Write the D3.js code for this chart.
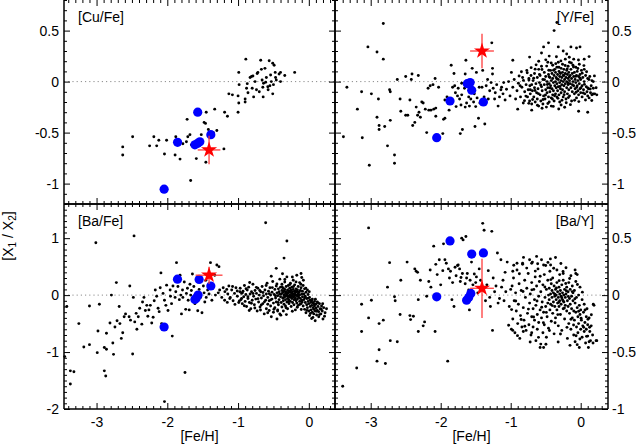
<!DOCTYPE html>
<html>
<head>
<meta charset="utf-8">
<script src="https://cdn.jsdelivr.net/npm/d3@7"></script>
<style>
  body { margin: 0; background: #fff; }
  text { font-family: "Liberation Sans", Arial, Helvetica, sans-serif; }
</style>
</head>
<body>
<svg id="chart" width="636" height="444"></svg>
<script>
// ---- data: [Fe/H, ratio] ----
const cuFe = [[-2.63,-0.64],[-2.63,-0.72],[-2.49,-0.54],[-2.25,-0.63],[-2.19,-0.54],[-2.15,-0.63],[-2.12,-0.575],[-2.04,-0.71],[-2.01,-0.575],[-1.89,-0.72],[-1.88,-0.54],[-1.82,-0.76],[-1.78,-0.61],[-1.73,-0.59],[-1.72,-0.37],[-1.71,-0.54],[-1.68,-0.52],[-1.67,-0.97],[-1.66,-0.62],[-1.59,-0.755],[-1.55,-0.58],[-1.52,-0.52],[-1.48,-0.40],[-1.46,-0.41],[-1.455,-0.79],[-1.45,-0.30],[-1.42,-0.47],[-1.35,-0.50],[-1.33,-0.27],[-1.30,-0.48],[-1.20,-0.66],[-1.19,-0.30],[-1.15,-0.34],[-1.13,-0.12],[-1.08,-0.13],[-1.00,-0.14],[-1.00,-0.30],[-0.99,-0.21],[-0.99,0.09],[-0.985,-0.03],[-0.90,-0.17],[-0.90,-0.20],[-0.89,0.22],[-0.88,-0.065],[-0.87,-0.02],[-0.86,-0.11],[-0.83,0.04],[-0.81,0.05],[-0.80,-0.065],[-0.79,0.055],[-0.78,-0.15],[-0.76,0.0],[-0.74,-0.08],[-0.73,0.08],[-0.72,0.09],[-0.70,-0.10],[-0.68,0.21],[-0.67,0.12],[-0.66,0.015],[-0.65,-0.055],[-0.645,-0.15],[-0.64,-0.016],[-0.62,0.13],[-0.61,-0.007],[-0.60,0.04],[-0.58,-0.05],[-0.575,-0.08],[-0.56,0.205],[-0.55,-0.04],[-0.54,0.065],[-0.53,0.0],[-0.51,0.18],[-0.51,-0.12],[-0.50,-0.03],[-0.49,0.16],[-0.475,0.09],[-0.47,0.04],[-0.46,0.015],[-0.42,0.075],[-0.40,0.09],[-0.40,0.0],[-0.34,0.06],[-0.20,0.09]];

const yFe = [[-3.39,-0.54],[-3.34,-0.055],[-3.19,-0.27],[-3.13,-0.10],[-3.12,-0.55],[-3.04,0.34],[-3.02,-0.82],[-2.99,-0.12],[-2.91,0.29],[-2.91,-0.35],[-2.89,-0.17],[-2.88,-0.43],[-2.88,-0.47],[-2.82,0.57],[-2.82,0.22],[-2.80,-0.44],[-2.76,-0.63],[-2.73,-0.08],[-2.72,-0.10],[-2.72,-0.38],[-2.66,-0.72],[-2.66,-0.80],[-2.62,0.02],[-2.58,-0.17],[-2.57,-0.29],[-2.50,-0.33],[-2.50,0.05],[-2.47,-0.33],[-2.44,-0.18],[-2.42,0.02],[-2.41,0.075],[-2.40,-0.43],[-2.37,-0.40],[-2.35,-0.25],[-2.33,-0.33],[-2.32,0.06],[-2.31,-0.30],[-2.29,-0.35],[-2.27,-0.20],[-2.25,-0.21],[-2.22,-0.27],[-2.20,-0.50],[-2.18,-0.065],[-2.17,-0.28],[-2.15,-0.04],[-2.14,-0.28],[-2.11,-0.03],[-2.10,-0.27],[-2.08,0.03],[-2.07,-0.34],[-2.07,-0.26],[-2.03,-0.055],[-1.97,-0.51],[-1.96,-0.37],[-1.94,-0.36],[-1.94,-0.18],[-1.91,-0.15],[-1.88,-0.28],[-1.85,0.16],[-1.83,-0.055],[-1.81,0.08],[-1.80,-0.04],[-1.79,-0.11],[-1.78,-0.245],[-1.76,-0.14],[-1.75,-0.065],[-1.73,-0.17],[-1.72,-0.51],[-1.71,-0.23],[-1.70,-0.13],[-1.70,-0.016],[-1.69,-0.47],[-1.66,-0.065],[-1.65,0.075],[-1.65,-0.25],[-1.64,0.21],[-1.63,-0.21],[-1.60,-0.15],[-1.59,-0.24],[-1.57,-0.17],[-1.55,0.13],[-1.54,-0.01],[-1.53,-0.20],[-1.52,-0.12],[-1.51,-0.44],[-1.50,-0.245],[-1.49,0.09],[-1.48,-0.16],[-1.46,-0.36],[-1.45,-0.055],[-1.44,-0.21],[-1.41,-0.055],[-1.40,0.11],[-1.38,-0.15],[-1.37,-0.415],[-1.35,-0.04],[-1.33,0.02],[-1.32,-0.17],[-1.30,-0.09],[-1.28,-0.01],[-1.27,0.38],[-1.26,0.13],[-1.26,0.075],[-1.25,-0.065],[-1.23,-0.17],[-1.22,-0.11],[-1.20,-0.03],[-1.18,-0.24],[-1.16,-0.15],[-1.14,-0.08],[-1.13,-0.055],[-1.11,-0.12],[-1.10,-0.01],[-1.08,-0.18],[-1.06,-0.075],[-1.03,0.00],[-1.01,-0.14],[-0.99,0.09],[-0.97,0.21],[-0.97,-0.055],[-0.95,0.02],[-0.93,-0.17],[-0.91,-0.09],[-0.90,-0.27],[-0.89,-0.016],[-0.88,0.055],[-0.86,-0.15],[-0.84,-0.055],[-0.83,0.04],[-0.82,-0.21],[-0.80,-0.10],[-0.78,-0.03],[-0.77,0.11],[-0.76,-0.15],[-0.74,0.016],[-0.73,0.24],[-0.72,-0.08],
[-0.56,0.28],[-0.53,0.34],[-0.46,0.38],[-0.38,0.50],[-0.34,0.58],[-0.32,0.34],[-0.25,0.30],[-0.14,0.34],[-0.06,0.33],[-0.01,0.34],[0.12,0.245],[-0.03,-0.29],[0.10,-0.30],[0.23,-0.13],[0.16,0.01],[0.18,-0.065],[-0.60,0.20],[-0.45,0.25],[-0.20,0.27],[0.05,0.22],[-0.10,0.22],[-0.70,-0.28],[-0.42,-0.24],[-0.28,-0.23],
[-0.75,-0.08],[-0.74,0.03],[-0.73,-0.19],[-0.72,-0.12],[-0.71,0.06],[-0.70,-0.03],[-0.70,-0.22],[-0.69,-0.09],[-0.68,0.01],[-0.67,-0.15],[-0.66,-0.06],[-0.66,0.08],[-0.65,-0.20],[-0.64,-0.02],[-0.63,-0.11],[-0.62,0.04],[-0.62,-0.17],[-0.61,-0.07],[-0.60,-0.24],[-0.60,0.12],
[-0.59,-0.01],[-0.58,-0.13],[-0.58,0.06],[-0.57,-0.19],[-0.56,-0.05],[-0.56,0.15],[-0.55,-0.09],[-0.54,0.02],[-0.54,-0.22],[-0.53,-0.14],[-0.52,0.09],[-0.52,-0.03],[-0.51,-0.17],[-0.50,0.05],[-0.50,-0.08],[-0.49,-0.25],[-0.48,-0.11],[-0.48,0.00],[-0.47,0.19],[-0.47,-0.06],[-0.46,-0.15],[-0.46,0.07],[-0.45,-0.02],[-0.45,-0.20],
[-0.44,0.04],[-0.44,-0.10],[-0.43,0.11],[-0.43,-0.04],[-0.42,-0.16],[-0.42,0.01],[-0.41,0.08],[-0.41,-0.07],[-0.40,-0.13],[-0.40,0.03],[-0.40,0.16],[-0.39,-0.01],[-0.39,-0.09],[-0.38,0.06],[-0.38,-0.19],[-0.37,0.12],[-0.37,-0.04],[-0.36,0.00],[-0.36,-0.12],[-0.36,0.09],[-0.35,-0.06],[-0.35,0.04],[-0.34,0.14],[-0.34,-0.15],[-0.34,-0.02],[-0.33,0.07],[-0.33,-0.09],[-0.32,0.02],[-0.32,0.19],[-0.32,-0.05],[-0.31,0.10],[-0.31,-0.13],[-0.30,0.05],[-0.30,-0.01],[-0.30,-0.20],[-0.29,0.08],[-0.29,-0.07],[-0.28,0.13],[-0.28,0.01],[-0.28,-0.11],[-0.27,0.04],[-0.27,-0.03],[-0.26,0.17],[-0.26,0.09],[-0.26,-0.08],[-0.25,0.00],[-0.25,-0.15],[-0.24,0.06],[-0.24,0.12],[-0.24,-0.04],[-0.23,0.02],[-0.23,-0.10],[-0.22,0.08],[-0.22,0.22],[-0.22,-0.02],[-0.21,0.04],[-0.21,-0.17],[-0.20,0.11],[-0.20,-0.06],[-0.20,0.00],[-0.19,0.07],[-0.19,-0.12],[-0.18,0.15],[-0.18,0.03],[-0.18,-0.03],[-0.17,0.09],[-0.17,-0.08],[-0.16,0.01],[-0.16,0.19],[-0.16,-0.14],[-0.15,0.06],[-0.15,-0.02],[-0.14,0.12],[-0.14,-0.06],[-0.13,0.03],[-0.13,-0.19],[-0.12,0.08],[-0.12,-0.10],[-0.11,0.00],[-0.11,0.16],[-0.10,-0.04],[-0.10,0.05],
[-0.09,0.09],[-0.09,-0.12],[-0.08,0.02],[-0.08,-0.07],[-0.07,0.14],[-0.07,-0.01],[-0.06,0.06],[-0.06,-0.16],[-0.05,-0.04],[-0.05,0.10],[-0.04,0.01],[-0.04,-0.09],[-0.03,0.05],[-0.03,-0.13],[-0.02,0.17],[-0.02,-0.02],[-0.01,0.07],[-0.01,-0.07],[0.00,0.02],[0.00,-0.11],[0.01,0.11],[0.02,-0.04],[0.02,-0.15],[0.03,0.04],[0.04,-0.08],[0.05,0.12],[0.05,0.00],[0.06,-0.12],[0.07,0.06],[0.08,-0.05],[0.09,-0.10],[0.10,0.03],[0.10,-0.14],[0.11,-0.07],[0.12,-0.16],[0.13,0.05],[0.14,-0.11],[0.15,-0.04],[0.16,-0.13],[0.18,0.00],[0.20,-0.12],[0.22,-0.06],
[-0.783,-0.142],[-0.764,0.087],[-0.741,-0.213],[-0.726,-0.041],[-0.708,0.137],[-0.687,-0.176],[-0.672,0.033],[-0.653,-0.087],[-0.637,0.164],[-0.618,-0.232],[-0.604,-0.118],[-0.589,0.071],[-0.571,-0.034],[-0.553,0.118],[-0.538,-0.176],[-0.517,0.019],[-0.503,-0.131],[-0.486,0.152],[-0.469,-0.214],[-0.452,0.047],[-0.437,-0.063],[-0.421,0.183],[-0.404,-0.171],[-0.388,0.112],[-0.373,-0.138],[-0.357,0.176],[-0.342,0.027],[-0.326,-0.164],[-0.311,0.141],[-0.296,-0.047],[-0.283,0.203],[-0.268,-0.183],[-0.251,0.061],[-0.237,-0.128],[-0.222,0.158],[-0.207,-0.208],[-0.193,0.124],[-0.176,-0.157],[-0.162,0.047],[-0.147,-0.226],[-0.133,0.182],[-0.118,-0.031],[-0.103,0.143],[-0.087,-0.183],[-0.072,0.051],[-0.058,-0.057],[-0.041,0.128],[-0.027,-0.196],[-0.012,0.036],[0.004,-0.061],[0.021,0.083],[0.037,-0.112],[0.053,-0.027],[0.068,-0.181],[0.084,0.097],[0.101,-0.062],[0.117,0.021],[0.136,-0.073],[0.158,-0.186],[0.177,-0.122],[0.196,0.056],[-0.476,-0.028],[-0.392,-0.243],[-0.314,-0.268],[-0.229,-0.251],[-0.552,-0.262],[-0.651,0.122],[-0.499,0.213],[-0.347,0.243],[-0.163,0.238],[-0.032,0.212],[-0.818,0.012],[-0.803,-0.187],[-0.847,0.097],[-0.866,-0.041],[-0.456,0.112],[-0.293,0.086],[-0.179,-0.014],[-0.066,-0.104],[0.046,0.157]];

const baFe = [[-3.45,-1.08],[-3.42,-0.20],[-3.37,-1.56],[-3.37,-1.33],[-3.32,-1.345],[-3.25,-0.50],[-3.18,-0.91],[-3.10,-0.87],[-3.10,-0.19],[-3.01,0.92],[-2.99,-1.01],[-2.98,-0.63],[-2.96,-0.16],[-2.89,-0.92],[-2.89,-1.33],[-2.87,-1.42],[-2.86,-0.67],[-2.86,-0.95],[-2.81,-0.49],[-2.79,0.00],[-2.77,-0.84],[-2.76,-1.04],[-2.74,-0.56],[-2.72,0.22],[-2.71,-0.45],[-2.68,-0.20],[-2.67,-0.50],[-2.65,-0.76],[-2.63,-0.66],[-2.61,-0.38],[-2.59,-0.33],[-2.54,-0.38],[-2.53,0.16],[-2.52,-0.44],[-2.49,-1.035],[-2.48,-0.04],[-2.47,1.04],[-2.46,-0.47],[-2.44,-0.32],[-2.43,-0.60],[-2.41,-0.38],[-2.39,-0.23],[-2.36,-0.51],[-2.35,-0.12],[-2.33,-0.04],[-2.31,-0.27],[-2.29,-0.18],[-2.275,-0.37],[-2.26,-0.26],[-2.24,-0.18],[-2.22,-0.49],[-2.20,-0.39],[-2.185,-0.10],[-2.17,0.09],[-2.15,-0.02],[-2.13,-0.23],[-2.115,-0.29],[-2.10,0.13],[-2.09,0.39],[-2.08,-0.50],[-2.06,0.03],[-2.04,-0.09],[-2.04,-1.87],[-2.02,-0.18],[-2.01,0.175],[-1.99,-0.27],[-1.96,0.09],[-1.955,-0.02],[-1.94,-0.15],[-1.93,-0.72],[-1.92,0.16],[-1.89,-0.04],[-1.88,0.06],[-1.87,0.57],[-1.85,0.15],[-1.83,-0.08],[-1.82,0.35],[-1.81,0.00],[-1.80,-0.33],[-1.785,0.09],[-1.78,-0.04],[-1.76,0.23],[-1.75,-1.36],[-1.74,-0.25],[-1.73,0.03],[-1.715,0.12],[-1.705,-0.09],[-1.69,-0.26],[-1.68,0.19],[-1.67,0.00],[-1.66,0.08],[-1.645,0.37],[-1.635,-0.09],[-1.625,0.15],[-1.61,-0.15],[-1.59,0.03],[-1.57,-0.275],[-1.55,0.10],[-1.53,-0.04],[-1.51,-0.31],[-1.49,0.16],[-1.48,0.04],[-1.47,-0.12],[-1.455,0.26],[-1.45,-0.04],[-1.43,0.09],[-1.41,0.02],[-1.39,0.57],[-1.37,-0.09],[-1.35,0.15],[-1.33,0.35],[-1.32,0.00],[-1.30,0.53],[-1.28,0.04],[-1.27,0.50],[-1.26,0.09],[-1.23,-0.04],[-1.21,0.13],[-1.19,-0.09],[-1.16,0.10],[-1.145,0.02],[-1.13,0.16],[-1.11,-0.04],[-1.09,0.09],[-1.07,-0.10],[-1.05,0.03],[-1.03,0.13],[-1.01,-0.02],[-0.99,-0.13],[-0.975,0.06],[-0.95,-0.06],[-0.61,1.27],[-0.31,0.95],[-0.35,0.65],[-0.46,0.47],
[-0.97,0.12],[-0.96,-0.08],[-0.95,0.03],[-0.94,-0.15],[-0.93,0.07],[-0.92,-0.03],[-0.91,0.17],[-0.90,-0.11],[-0.89,0.01],[-0.88,-0.20],[-0.87,0.09],[-0.86,-0.06],[-0.85,0.14],[-0.84,-0.13],[-0.83,0.02],[-0.82,-0.24],[-0.81,0.06],[-0.80,-0.09],[-0.79,0.19],[-0.78,-0.02],[-0.77,-0.17],[-0.76,0.08],[-0.75,-0.07],[-0.74,0.03],[-0.73,-0.28],[-0.72,0.12],[-0.71,-0.12],[-0.70,0.00],[-0.69,-0.21],[-0.68,0.06],[-0.67,-0.05],[-0.66,0.15],[-0.65,-0.15],[-0.64,-0.01],[-0.63,-0.33],[-0.62,0.09],[-0.61,-0.09],[-0.60,0.02],[-0.60,-0.24],[-0.59,0.21],
[-0.58,-0.04],[-0.58,-0.16],[-0.57,0.07],[-0.56,-0.27],[-0.56,-0.10],[-0.55,0.13],[-0.54,0.00],[-0.54,-0.19],[-0.53,-0.38],[-0.52,0.05],[-0.52,-0.07],[-0.51,0.24],[-0.50,-0.14],[-0.50,-0.30],[-0.49,0.01],[-0.48,0.10],[-0.48,-0.22],[-0.47,-0.05],[-0.46,0.16],[-0.46,-0.12],[-0.45,-0.42],[-0.45,0.04],[-0.44,-0.26],[-0.44,-0.01],[-0.43,0.11],[-0.43,-0.17],[-0.42,0.06],[-0.42,-0.08],[-0.41,0.28],[-0.41,-0.33],[-0.40,-0.03],[-0.40,0.14],
[-0.39,0.02],[-0.39,-0.13],[-0.38,0.08],[-0.38,-0.21],[-0.38,0.19],[-0.37,-0.05],[-0.37,0.04],[-0.36,-0.10],[-0.36,0.12],[-0.36,-0.28],[-0.35,0.00],[-0.35,0.07],[-0.35,-0.16],[-0.34,0.23],[-0.34,-0.03],[-0.34,0.10],[-0.33,-0.08],[-0.33,0.03],[-0.33,-0.19],[-0.32,0.15],[-0.32,-0.01],[-0.32,0.06],[-0.31,-0.12],[-0.31,0.32],[-0.31,0.01],[-0.30,-0.06],[-0.30,0.09],[-0.30,-0.24],[-0.29,0.04],[-0.29,-0.02],[-0.29,0.17],[-0.28,-0.09],[-0.28,0.07],[-0.28,-0.15],[-0.27,0.00],[-0.27,0.12],[-0.27,-0.04],[-0.26,0.05],[-0.26,-0.11],[-0.26,0.21],[-0.25,-0.01],[-0.25,0.09],[-0.25,-0.20],[-0.24,0.03],[-0.24,-0.06],[-0.24,0.14],[-0.23,-0.13],[-0.23,0.06],[-0.23,0.00],[-0.22,0.26],[-0.22,-0.03],[-0.22,0.10],[-0.21,-0.08],[-0.21,0.02],[-0.21,-0.17],[-0.20,0.07],[-0.20,-0.01],[-0.20,0.18],[-0.19,-0.05],[-0.19,0.04],[-0.19,-0.26],[-0.18,0.11],[-0.18,-0.10],[-0.18,0.00],[-0.17,0.06],[-0.17,-0.14],[-0.17,0.35],[-0.16,-0.02],[-0.16,0.09],[-0.16,-0.07],[-0.15,0.15],[-0.15,0.02],[-0.15,-0.18],[-0.14,-0.04],[-0.14,0.05],[-0.13,0.22],[-0.13,-0.11],[-0.13,0.00],[-0.12,0.08],[-0.12,-0.06],[-0.11,0.38],[-0.11,0.13],[-0.11,-0.15],[-0.10,0.02],[-0.10,-0.09],[-0.10,0.31],
[-0.09,-0.03],[-0.09,0.07],[-0.08,-0.19],[-0.08,0.17],[-0.07,-0.08],[-0.07,0.02],[-0.06,-0.25],[-0.06,0.11],[-0.05,-0.13],[-0.05,-0.02],[-0.04,0.05],[-0.04,-0.31],[-0.03,-0.17],[-0.03,-0.06],[-0.02,0.09],[-0.02,-0.22],[-0.01,-0.11],[-0.01,0.01],[0.00,-0.28],[0.00,-0.15],[0.01,-0.04],[0.01,-0.36],[0.02,-0.20],[0.02,-0.09],[0.03,-0.26],[0.03,-0.13],[0.04,-0.41],[0.04,-0.18],[0.05,-0.30],[0.05,-0.07],[0.06,-0.22],[0.06,-0.14],[0.07,-0.33],[0.07,-0.25],[0.08,-0.11],[0.08,-0.19],[0.09,-0.45],[0.09,-0.28],[0.10,-0.16],[0.10,-0.23],[0.11,-0.35],[0.12,-0.12],[0.12,-0.27],[0.13,-0.20],[0.14,-0.38],[0.14,-0.29],[0.15,-0.15],[0.16,-0.24],[0.17,-0.33],[0.18,-0.19],[0.19,-0.28],[0.20,-0.42],[0.21,-0.22],[0.23,-0.31],[0.25,-0.24],
[-0.938,0.043],[-0.912,-0.187],[-0.887,0.112],[-0.861,-0.028],[-0.836,0.221],[-0.812,-0.143],[-0.788,0.027],[-0.763,-0.226],[-0.741,0.136],[-0.718,-0.062],[-0.694,0.081],[-0.672,-0.173],[-0.648,0.047],[-0.627,-0.118],[-0.603,0.168],[-0.581,-0.311],[-0.559,0.026],[-0.537,-0.083],[-0.516,0.132],[-0.493,-0.247],[-0.472,-0.012],[-0.451,0.197],[-0.433,-0.128],[-0.414,0.018],[-0.396,-0.352],[-0.377,0.142],[-0.358,-0.046],[-0.339,0.274],[-0.322,-0.221],[-0.304,0.036],[-0.287,-0.117],[-0.268,0.187],[-0.251,-0.031],[-0.233,-0.283],[-0.216,0.151],[-0.198,-0.072],[-0.181,0.232],[-0.163,-0.212],[-0.146,0.011],[-0.128,-0.163],[-0.112,0.192],[-0.094,-0.122],[-0.077,0.262],[-0.059,-0.048],[-0.043,0.123],[-0.027,-0.268],[-0.011,-0.057],[0.006,0.061],[0.023,-0.323],[0.041,-0.102],[0.058,-0.393],[0.076,-0.161],[0.093,-0.072],[0.112,-0.283],[0.131,-0.136],[0.152,-0.342],[0.173,-0.247],[0.196,-0.152],[0.222,-0.372],[-0.982,-0.102],[-1.012,0.071],[-1.044,-0.163],[-1.078,0.152],[-1.117,-0.061],[-1.152,-0.128],[-1.186,0.061],[-0.531,0.331],[-0.372,0.376],[-0.233,0.318],[-0.107,-0.253],[-0.441,-0.281],[-0.317,-0.342],[-0.683,-0.262],[-0.842,-0.271],[-0.262,0.052],[-0.187,0.068],[-0.358,0.058]];

const baY = [[-3.40,-0.80],[-3.20,-0.64],[-3.13,-0.08],[-3.13,-0.32],[-3.03,0.59],[-3.03,-0.20],[-2.99,-0.045],[-2.91,-0.58],[-2.88,-0.25],[-2.88,-0.48],[-2.82,-0.22],[-2.79,-0.60],[-2.76,0.07],[-2.73,0.285],[-2.72,-0.40],[-2.66,-0.015],[-2.65,-0.05],[-2.62,-0.41],[-2.58,-0.17],[-2.57,0.13],[-2.48,0.29],[-2.44,-0.18],[-2.43,-0.215],[-2.39,-0.185],[-2.37,0.23],[-2.35,0.21],[-2.33,0.20],[-2.32,-0.32],[-2.32,-0.04],[-2.29,0.13],[-2.25,-0.27],[-2.23,-0.235],[-2.20,-0.01],[-2.17,0.12],[-2.15,0.22],[-2.14,0.07],[-2.10,0.43],[-2.08,-0.32],[-2.07,0.27],[-2.05,0.18],[-2.02,0.31],[-2.00,0.09],[-1.97,0.215],[-1.96,0.45],[-1.94,0.31],[-1.92,0.28],[-1.90,-0.58],[-1.89,0.23],[-1.875,0.15],[-1.86,0.21],[-1.84,-0.04],[-1.83,0.11],[-1.81,-0.10],[-1.795,0.245],[-1.78,0.17],[-1.76,0.26],[-1.75,0.265],[-1.73,0.23],[-1.72,0.12],[-1.71,0.155],[-1.70,0.50],[-1.69,0.19],[-1.68,0.485],[-1.65,0.10],[-1.64,0.515],[-1.63,0.15],[-1.62,0.19],[-1.60,0.045],[-1.59,-0.13],[-1.58,0.13],[-1.56,0.29],[-1.54,0.09],[-1.52,0.185],[-1.50,0.11],[-1.49,0.16],[-1.47,0.02],[-1.45,0.23],[-1.43,0.13],[-1.40,0.63],[-1.38,0.57],[-1.36,-0.05],[-1.34,0.09],[-1.32,0.215],[-1.30,-0.02],[-1.29,-0.10],[-1.27,0.56],[-1.26,-0.31],[-1.25,0.15],[-1.23,0.03],[-1.21,0.08],[-1.19,0.37],[-1.18,-0.07],[-1.16,-0.03],[-1.14,0.31],[-1.13,0.07],[-1.11,0.13],[-1.095,-0.05],[-1.08,0.20],[-1.07,0.03],[-1.05,0.29],[-1.03,-0.265],[-1.02,-0.10],[-1.00,0.05],[-0.99,-0.30],
[-0.97,0.21],[-0.91,0.28],[-0.83,0.28],[-0.73,0.31],[-0.70,0.28],[-0.63,0.34],[-0.53,0.265],[-0.43,0.265],[-0.34,0.22],[-0.25,0.19],[-0.08,0.22],[-0.07,0.19],[-0.53,-0.46],[-0.57,-0.43],[-0.05,-0.435],[0.12,-0.41],[0.23,-0.40],[0.18,-0.08],[-0.97,-0.31],[-0.82,-0.32],[-0.70,-0.33],
[-0.98,0.08],[-0.97,-0.21],[-0.96,0.15],[-0.95,-0.05],[-0.94,-0.33],[-0.93,0.02],[-0.92,-0.14],[-0.91,0.22],[-0.90,-0.25],[-0.89,-0.08],[-0.88,0.10],[-0.87,-0.38],[-0.86,-0.18],[-0.85,0.04],[-0.84,-0.28],[-0.83,0.27],[-0.82,-0.11],[-0.81,-0.22],[-0.80,0.13],[-0.79,-0.02],[-0.78,-0.31],[-0.77,0.06],[-0.76,-0.16],[-0.75,0.19],[-0.74,-0.26],[-0.73,-0.07],[-0.72,0.01],[-0.71,-0.35],[-0.70,-0.19],[-0.70,0.11],
[-0.69,0.29],[-0.68,-0.12],[-0.68,-0.28],[-0.67,0.05],[-0.66,-0.04],[-0.66,-0.22],[-0.65,0.16],[-0.64,-0.40],[-0.64,-0.09],[-0.63,0.08],[-0.62,-0.17],[-0.62,-0.30],[-0.61,0.23],[-0.60,-0.01],[-0.60,-0.24],[-0.59,0.12],[-0.58,-0.13],[-0.58,-0.46],[-0.57,0.03],[-0.56,-0.20],[-0.56,0.31],[-0.55,-0.06],[-0.54,-0.33],[-0.54,0.09],[-0.53,-0.15],[-0.52,0.18],[-0.52,-0.26],[-0.51,-0.02],[-0.50,-0.10],[-0.50,0.26],[-0.49,-0.37],[-0.49,0.05],[-0.48,-0.19],[-0.47,0.13],[-0.47,-0.07],[-0.46,-0.29],[-0.46,0.00],
[-0.45,-0.04],[-0.45,0.06],[-0.44,-0.13],[-0.44,0.21],[-0.43,0.01],[-0.43,-0.08],[-0.42,-0.23],[-0.42,0.10],[-0.41,-0.02],[-0.41,0.04],[-0.40,-0.16],[-0.40,0.15],[-0.39,-0.06],[-0.39,0.02],[-0.38,-0.34],[-0.38,0.08],[-0.37,-0.10],[-0.37,-0.01],[-0.36,0.05],[-0.36,-0.20],[-0.36,0.33],[-0.35,-0.04],[-0.35,0.00],[-0.34,-0.13],[-0.34,0.11],[-0.33,-0.07],[-0.33,0.03],[-0.32,-0.27],[-0.32,-0.02],[-0.31,0.07],[-0.31,-0.10],[-0.30,0.18],[-0.30,-0.05],[-0.30,0.01],[-0.29,-0.17],[-0.29,0.04],[-0.28,-0.08],[-0.28,-0.01],[-0.27,0.09],[-0.27,-0.31],[-0.26,-0.04],[-0.26,0.02],[-0.25,-0.12],[-0.25,0.13],[-0.24,-0.06],[-0.24,0.00],[-0.23,-0.21],[-0.23,0.05],[-0.22,-0.02],[-0.22,-0.09],[-0.21,0.24],[-0.21,0.01],[-0.20,-0.14],[-0.20,0.07],[-0.19,-0.05],[-0.19,-0.38],[-0.18,0.03],[-0.18,-0.10],[-0.17,-0.25],[-0.17,0.11],[-0.16,-0.03],[-0.16,-0.16],[-0.15,0.05],[-0.15,-0.08],[-0.14,0.17],[-0.14,-0.30],[-0.13,-0.01],[-0.13,-0.12],[-0.12,0.08],[-0.12,-0.20],[-0.11,-0.05],[-0.11,0.02],[-0.10,-0.35],[-0.10,-0.14],
[-0.09,0.04],[-0.09,-0.22],[-0.08,-0.07],[-0.08,-0.41],[-0.07,0.12],[-0.07,-0.15],[-0.06,-0.28],[-0.06,-0.02],[-0.05,0.18],[-0.05,-0.11],[-0.04,-0.33],[-0.04,-0.19],[-0.03,0.00],[-0.03,-0.25],[-0.02,-0.09],[-0.02,-0.46],[-0.01,-0.17],[-0.01,0.07],[0.00,-0.30],[0.00,-0.13],[0.01,-0.22],[0.02,-0.04],[0.02,-0.37],[0.03,-0.27],[0.04,-0.15],[0.05,-0.32],[0.05,-0.08],[0.06,-0.24],[0.07,-0.42],[0.08,-0.19],[0.08,-0.30],[0.09,-0.12],[0.10,-0.36],[0.10,-0.26],[0.11,-0.46],[0.12,-0.20],[0.13,-0.32],[0.14,-0.40],[0.15,-0.27],[0.17,-0.35],[0.19,-0.09],[0.22,-0.40],
[-0.987,-0.127],[-0.956,0.262],[-0.928,-0.052],[-0.903,-0.356],[-0.876,0.187],[-0.851,-0.214],[-0.824,0.032],[-0.798,-0.273],[-0.771,0.237],[-0.747,-0.123],[-0.722,-0.412],[-0.698,0.046],[-0.673,-0.192],[-0.649,0.211],[-0.624,-0.052],[-0.603,-0.371],[-0.579,0.166],[-0.557,-0.106],[-0.533,-0.242],[-0.512,0.071],[-0.491,-0.152],[-0.468,0.287],[-0.447,-0.311],[-0.426,0.136],[-0.407,-0.092],[-0.386,0.236],[-0.366,-0.243],[-0.347,0.063],[-0.327,-0.171],[-0.308,0.127],[-0.289,-0.342],[-0.271,-0.023],[-0.252,0.207],[-0.233,-0.113],[-0.214,0.102],[-0.196,-0.283],[-0.177,-0.012],[-0.158,0.146],[-0.139,-0.212],[-0.121,0.031],[-0.102,-0.262],[-0.083,-0.032],[-0.066,-0.357],[-0.047,0.093],[-0.029,-0.142],[-0.012,-0.386],[0.006,-0.203],[0.024,0.026],[0.043,-0.283],[0.062,-0.131],[0.083,-0.362],[0.104,-0.212],[0.127,-0.282],[0.152,-0.172],[0.176,-0.421],[-0.817,0.331],[-0.615,0.276],[-0.433,0.318],[-0.283,0.278],[-0.153,-0.441],[-0.322,-0.412],[-0.497,-0.432],[-0.368,0.007],[-0.251,-0.052],[-0.312,-0.063],[-0.206,0.038]];

// blue comparison stars
const cuFeBlue = [[-1.57,-0.30],[-1.385,-0.52],[-1.855,-0.595],[-1.61,-0.62],[-1.57,-0.605],[-1.54,-0.59],[-2.045,-1.055]];
const yFeBlue = [[-2.057,-0.55],[-1.867,-0.19],[-1.62,-0.02],[-1.58,-0.01],[-1.557,-0.085],[-1.39,-0.20]];
const baFeBlue = [[-1.856,0.28],[-1.55,0.275],[-1.385,0.16],[-1.565,0.0],[-1.59,-0.05],[-1.61,-0.075],[-2.045,-0.56]];
const baYBlue = [[-1.867,0.476],[-1.557,0.36],[-1.39,0.37],[-2.057,-0.015],[-1.57,0.015],[-1.60,-0.02],[-1.63,-0.045]];

// programme star: [Fe/H, ratio, errFe, errRatio]
const cuFeStar = [-1.41, -0.67, 0.16, 0.14];
const yFeStar = [-1.41, 0.30, 0.17, 0.17];
const baFeStar = [-1.41, 0.35, 0.19, 0.15];
const baYStar = [-1.41, 0.06, 0.17, 0.26];

// tick values
const feMajor = [-3, -2, -1, 0];
const topMajor = [-1, -0.5, 0, 0.5];
const baFeMajor = [-2, -1, 0, 1];
const baYMajor = [-1, -0.5, 0, 0.5];

const svg = d3.select("#chart");
const near = (v, arr) => arr.some(a => Math.abs(a - v) < 1e-6);
const minors = (lo, hi, step, major) =>
  d3.range(Math.round(lo / step), Math.round(hi / step) + 1).map(i => +(i * step).toFixed(3)).filter(v => !near(v, major));

const panels = [
  {label: "[Cu/Fe]", dots: cuFe, blue: cuFeBlue, star: cuFeStar, xr: [64, 335], yr: [0, 204],
   xDom: [-3.46, 0.37], yDom: [-1.2, 0.8], yMajor: topMajor, yStep: 0.1, col: 0, row: 0},
  {label: "[Y/Fe]", dots: yFe, blue: yFeBlue, star: yFeStar, xr: [335, 608], yr: [0, 204],
   xDom: [-3.51, 0.39], yDom: [-1.2, 0.8], yMajor: topMajor, yStep: 0.1, col: 1, row: 0},
  {label: "[Ba/Fe]", dots: baFe, blue: baFeBlue, star: baFeStar, xr: [64, 335], yr: [204, 409],
   xDom: [-3.46, 0.37], yDom: [-2, 1.6], yMajor: baFeMajor, yStep: 0.1, col: 0, row: 1},
  {label: "[Ba/Y]", dots: baY, blue: baYBlue, star: baYStar, xr: [335, 608], yr: [204, 409],
   xDom: [-3.51, 0.39], yDom: [-1, 0.8], yMajor: baYMajor, yStep: 0.05, col: 1, row: 1}
];

const fmt = d => String(d);

function side(g, make, scale, tr, major, minor, labels, pad) {
  g.append("g").attr("transform", tr)
    .call(make(scale).tickValues(minor).tickSize(-3).tickSizeOuter(0).tickFormat(""))
    .call(a => a.select(".domain").remove());
  const a = g.append("g").attr("transform", tr)
    .call(make(scale).tickValues(major).tickSize(-6).tickSizeOuter(0).tickPadding(pad)
      .tickFormat(labels ? fmt : () => ""));
  a.select(".domain").remove();
  a.attr("font-size", 14).attr("font-family", "Liberation Sans, Arial, sans-serif");
  a.selectAll("text").attr("fill", "#000");
}

panels.forEach(p => {
  const g = svg.append("g");
  const x = d3.scaleLinear().domain(p.xDom).range(p.xr);
  const y = d3.scaleLinear().domain(p.yDom).range([p.yr[1], p.yr[0]]);

  // zero reference line
  g.append("line")
    .attr("x1", p.xr[0]).attr("x2", p.xr[1])
    .attr("y1", y(0)).attr("y2", y(0))
    .attr("stroke", "#8c8c8c").attr("stroke-width", 1)
    .attr("stroke-dasharray", "1.2,3");

  g.append("g").selectAll("circle")
    .data(p.dots)
    .join("circle")
    .attr("cx", d => x(d[0]))
    .attr("cy", d => y(d[1]))
    .attr("r", 1.45)
    .attr("fill", "#000");

  g.append("g").selectAll("circle")
    .data(p.blue)
    .join("circle")
    .attr("cx", d => x(d[0]))
    .attr("cy", d => y(d[1]))
    .attr("r", 4.6)
    .attr("fill", "#0000ff");

  const s = p.star;
  const eb = g.append("g").attr("stroke", "#ff3c3c").attr("stroke-width", 1.3);
  eb.append("line").attr("x1", x(s[0] - s[2])).attr("x2", x(s[0] + s[2])).attr("y1", y(s[1])).attr("y2", y(s[1]));
  eb.append("line").attr("x1", x(s[0])).attr("x2", x(s[0])).attr("y1", y(s[1] - s[3])).attr("y2", y(s[1] + s[3]));
  g.append("path")
    .attr("d", d3.symbol(d3.symbolStar, 80)())
    .attr("transform", `translate(${x(s[0])},${y(s[1])})`)
    .attr("fill", "#ff0000");

  // frame
  const fr = g.append("g").attr("stroke", "#000").attr("stroke-width", 1.5);
  fr.append("line").attr("x1", p.xr[0]).attr("x2", p.xr[1]).attr("y1", p.yr[1]).attr("y2", p.yr[1]);
  fr.append("line").attr("x1", p.xr[0]).attr("x2", p.xr[0]).attr("y1", p.yr[0]).attr("y2", p.yr[1]);
  fr.append("line").attr("x1", p.xr[1]).attr("x2", p.xr[1]).attr("y1", p.yr[0]).attr("y2", p.yr[1]);
  if (p.row === 1) fr.append("line").attr("x1", p.xr[0]).attr("x2", p.xr[1]).attr("y1", p.yr[0]).attr("y2", p.yr[0]);

  const xMinor = minors(-3.4, 0.3, 0.1, feMajor);
  const yMinor = minors(p.yDom[0], p.yDom[1], p.yStep, p.yMajor);

  side(g, d3.axisBottom, x, `translate(0,${p.yr[1]})`, feMajor, xMinor, p.row === 1, 8);
  side(g, d3.axisTop, x, `translate(0,${p.yr[0]})`, feMajor, xMinor, false, 3);
  side(g, d3.axisLeft, y, `translate(${p.xr[0]},0)`, p.yMajor, yMinor, p.col === 0, 5);
  side(g, d3.axisRight, y, `translate(${p.xr[1]},0)`, p.yMajor, yMinor, p.col === 1, 4);

  g.append("text")
    .attr("x", p.col === 0 ? p.xr[0] + 14 : p.xr[1] - 14)
    .attr("y", p.yr[0] + 22)
    .attr("text-anchor", p.col === 0 ? "start" : "end")
    .attr("font-size", 14)
    .text(p.label);

  if (p.row === 1) {
    g.append("text")
      .attr("x", (p.xr[0] + p.xr[1]) / 2)
      .attr("y", 441)
      .attr("text-anchor", "middle")
      .attr("font-size", 14)
      .text("[Fe/H]");
  }
});

// y-axis title with subscripts
const yt = svg.append("text")
  .attr("transform", "translate(13,236) rotate(-90)")
  .attr("text-anchor", "middle")
  .attr("font-size", 14);
yt.append("tspan").text("[X");
yt.append("tspan").attr("font-size", 10).attr("dy", 3).text("1");
yt.append("tspan").attr("dy", -3).text(" / X");
yt.append("tspan").attr("font-size", 10).attr("dy", 3).text("2");
yt.append("tspan").attr("dy", -3).text("]");
</script>
</body>
</html>
